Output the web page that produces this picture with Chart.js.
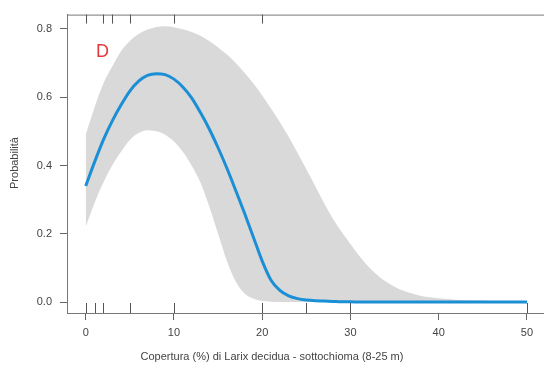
<!DOCTYPE html>
<html>
<head>
<meta charset="utf-8">
<script src="https://cdn.jsdelivr.net/npm/chart.js@4.4.1/dist/chart.umd.min.js"></script>
<style>
  html, body { margin: 0; padding: 0; background: #fff; }
  #wrap { width: 544px; height: 380px; }
</style>
</head>
<body>
<div id="wrap"><canvas id="chart" width="544" height="380"></canvas></div>
<script>
/* ---- data ---- */
const xValues = [0,1,2,3,4,5,6,7,8,9,10,11,12,13,14,15,16,17,18,19,20,21,22,23,24,25,26,27,28,29,30,31,32,33,34,35,36,37,38,39,40,42,44,46,48,50];
const meanProb = [0.34,0.41,0.475,0.53,0.577,0.618,0.647,0.664,0.669,0.666,0.653,0.63,0.598,0.555,0.507,0.452,0.392,0.327,0.26,0.19,0.12,0.064,0.034,0.018,0.010,0.006,0.004,0.003,0.002,0.001,0.001,0,0,0,0,0,0,0,0,0,0,0,0,0,0,0];
const upperProb = [0.49,0.57,0.64,0.69,0.735,0.765,0.785,0.798,0.806,0.808,0.805,0.799,0.791,0.78,0.765,0.746,0.725,0.70,0.672,0.64,0.605,0.567,0.527,0.484,0.437,0.389,0.34,0.29,0.245,0.205,0.17,0.135,0.105,0.08,0.06,0.045,0.033,0.025,0.018,0.014,0.011,0.007,0.005,0.003,0.002,0.001];
const lowerProb = [0.22,0.29,0.35,0.40,0.44,0.475,0.495,0.503,0.50,0.49,0.47,0.44,0.40,0.35,0.28,0.20,0.12,0.06,0.025,0.01,0.004,0.001,0,0,0,0,0,0,0,0,0,0,0,0,0,0,0,0,0,0,0,0,0,0,0,0];
const rugTop = [0, 2, 3, 5, 10, 20];
const rugBottom = [0, 1, 2, 5, 10, 20, 25, 30, 50];
const xTicks = [0, 10, 20, 30, 40, 50];
const yTicks = [0, 0.2, 0.4, 0.6, 0.8];

const pts = arr => xValues.map((x, i) => ({ x, y: arr[i] }));

const FONT = '"Liberation Sans", Arial, sans-serif';
const AXIS_COL = '#777';

// box top line, rug marks, titles and the panel letter
const extras = {
  id: 'extras',
  afterDatasetsDraw(chart) {
    const { ctx, chartArea: a, scales: { x } } = chart;
    ctx.save();
    ctx.strokeStyle = AXIS_COL;
    ctx.lineWidth = 1;
    ctx.beginPath();
    ctx.moveTo(a.left, a.top + 0.5);
    ctx.lineTo(a.right, a.top + 0.5);
    ctx.stroke();

    ctx.strokeStyle = '#555';
    rugTop.forEach(v => {
      const px = Math.round(x.getPixelForValue(v)) + 0.5;
      ctx.beginPath(); ctx.moveTo(px, a.top); ctx.lineTo(px, a.top + 9); ctx.stroke();
    });
    rugBottom.forEach(v => {
      const px = Math.round(x.getPixelForValue(v)) + 0.5;
      ctx.beginPath(); ctx.moveTo(px, a.bottom); ctx.lineTo(px, a.bottom - 10); ctx.stroke();
    });

    ctx.fillStyle = '#e5383b';
    ctx.font = '18px ' + FONT;
    ctx.textAlign = 'left';
    ctx.textBaseline = 'alphabetic';
    ctx.fillText('D', 96, 57);

    ctx.fillStyle = '#444';
    ctx.font = '11px ' + FONT;
    ctx.textAlign = 'center';
    ctx.textBaseline = 'middle';
    ctx.fillText('Copertura (%) di Larix decidua - sottochioma (8-25 m)', 272, 357);
    ctx.translate(15, 163);
    ctx.rotate(-Math.PI / 2);
    ctx.fillText('Probabilità', 0, 0);
    ctx.restore();
  }
};

new Chart(document.getElementById('chart'), {
  type: 'line',
  data: {
    datasets: [
      { data: pts(upperProb), order: 2, borderWidth: 0, borderColor: 'rgba(0,0,0,0)', backgroundColor: '#d9d9d9', fill: '+1', pointRadius: 0, cubicInterpolationMode: 'monotone' },
      { data: pts(lowerProb), order: 2, borderWidth: 0, borderColor: 'rgba(0,0,0,0)', fill: false, pointRadius: 0, cubicInterpolationMode: 'monotone' },
      { data: pts(meanProb), order: 0, borderWidth: 3, borderColor: '#1b8fd6', fill: false, pointRadius: 0, cubicInterpolationMode: 'monotone' }
    ]
  },
  options: {
    responsive: false,
    animation: false,
    layout: { padding: { top: 14, left: 0, right: 0, bottom: 0 } },
    plugins: { legend: { display: false }, tooltip: { enabled: false }, filler: { drawTime: 'beforeDatasetsDraw' } },
    scales: {
      x: {
        type: 'linear', min: -2.12, max: 51.93,
        afterBuildTicks: s => { s.ticks = xTicks.map(v => ({ value: v })); },
        afterFit: s => { s.height = 67; },
        grid: { drawOnChartArea: false, tickLength: 7, color: '#666' },
        border: { color: AXIS_COL },
        ticks: { color: '#444', padding: 6, font: { family: FONT, size: 11 }, maxRotation: 0 }
      },
      y: {
        type: 'linear', min: -0.032, max: 0.842,
        afterBuildTicks: s => { s.ticks = yTicks.map(v => ({ value: v })); },
        afterFit: s => { s.width = 67; },
        grid: { drawOnChartArea: false, tickLength: 7, color: '#666' },
        border: { color: AXIS_COL },
        ticks: { color: '#444', padding: 8, font: { family: FONT, size: 11 }, callback: v => v.toFixed(1) }
      }
    }
  },
  plugins: [extras]
});
</script>
</body>
</html>
